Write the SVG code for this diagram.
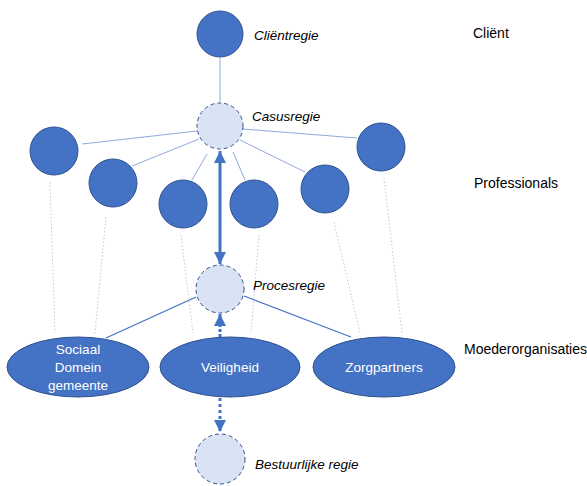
<svg xmlns="http://www.w3.org/2000/svg" width="587" height="486" viewBox="0 0 587 486">
<defs>
<style>
.node{fill:#4472C4;stroke:#2F528F;stroke-width:1}
.reg{fill:#DAE3F3;stroke:#2F528F;stroke-width:1;stroke-dasharray:4 3}
.thin{stroke:#8FAADC;stroke-width:1;fill:none}
.mid{stroke:#4472C4;stroke-width:1.3;fill:none}
.dot{stroke:#C8C8C8;stroke-width:1;stroke-dasharray:1.5 2;fill:none}
.lbl{font-family:"Liberation Sans",Arial,sans-serif;font-size:14px;fill:#000}
.it{font-family:"Liberation Sans",Arial,sans-serif;font-size:13.5px;font-style:italic;fill:#000}
.wt{font-family:"Liberation Sans",Arial,sans-serif;font-size:13.5px;fill:#fff;text-anchor:middle}
</style>
<marker id="ah" viewBox="0 0 10 10" refX="10" refY="5" markerWidth="4" markerHeight="4" orient="auto-start-reverse" markerUnits="strokeWidth">
<path d="M0,0 L10,5 L0,10 z" fill="#4472C4"/>
</marker>
</defs>
<g id="connectors">
<line class="thin" x1="220" y1="58" x2="220" y2="102"/>
<line class="thin" x1="82" y1="144" x2="197" y2="131"/>
<line class="thin" x1="132" y1="166" x2="199" y2="139"/>
<line class="thin" x1="192" y1="180" x2="207" y2="154"/>
<line class="thin" x1="245" y1="180" x2="233" y2="152"/>
<line class="thin" x1="243" y1="129" x2="357" y2="138"/>
<line class="thin" x1="240" y1="140" x2="305" y2="172"/>
<line class="dot" x1="50" y1="182" x2="55" y2="333"/>
<line class="dot" x1="106" y1="217" x2="95" y2="333"/>
<line class="dot" x1="181" y1="235" x2="193" y2="333"/>
<line class="dot" x1="259" y1="235" x2="251" y2="333"/>
<line class="dot" x1="334" y1="222" x2="360" y2="333"/>
<line class="dot" x1="384" y1="178" x2="402" y2="333"/>
<line class="mid" x1="196" y1="297" x2="106" y2="338"/>
<line class="mid" x1="244" y1="296" x2="351" y2="337"/>
<line x1="220" y1="151" x2="220" y2="264" stroke="#4472C4" stroke-width="3" marker-start="url(#ah)" marker-end="url(#ah)"/>
<line x1="220" y1="337" x2="220" y2="314" stroke="#4472C4" stroke-width="3" stroke-dasharray="3 2" marker-end="url(#ah)"/>
<line x1="220" y1="398" x2="220" y2="432" stroke="#4472C4" stroke-width="3" stroke-dasharray="3 3" marker-end="url(#ah)"/>
</g>
<g id="clientregie"><circle class="node" cx="220" cy="34" r="23"/><text class="it" x="254" y="40" font-size="15">Cliëntregie</text></g>
<g id="casusregie"><circle class="reg" cx="220" cy="126" r="23"/><text class="it" x="252" y="121">Casusregie</text></g>
<g id="prof1"><circle class="node" cx="54" cy="151" r="24"/></g>
<g id="prof2"><circle class="node" cx="113" cy="183" r="24"/></g>
<g id="prof3"><circle class="node" cx="183" cy="204" r="24"/></g>
<g id="prof4"><circle class="node" cx="254" cy="204" r="24"/></g>
<g id="prof5"><circle class="node" cx="325" cy="189" r="24"/></g>
<g id="prof6"><circle class="node" cx="381" cy="147" r="24"/></g>
<g id="procesregie"><circle class="reg" cx="220" cy="289" r="24"/><text class="it" x="253" y="290">Procesregie</text></g>
<g id="sociaal"><ellipse class="node" cx="78" cy="367" rx="71" ry="30"/><text class="wt" x="78" y="354">Sociaal</text><text class="wt" x="78" y="372">Domein</text><text class="wt" x="78" y="390">gemeente</text></g>
<g id="veiligheid"><ellipse class="node" cx="230" cy="367" rx="70" ry="30"/><text class="wt" x="230" y="372">Veiligheid</text></g>
<g id="zorgpartners"><ellipse class="node" cx="384" cy="367" rx="71" ry="30"/><text class="wt" x="384" y="372">Zorgpartners</text></g>
<g id="bestuurlijke"><circle class="reg" cx="220" cy="459" r="25"/><text class="it" x="255" y="469" font-size="15">Bestuurlijke regie</text></g>
<g id="labels">
<text class="lbl" x="473" y="38">Cliënt</text>
<text class="lbl" x="474" y="188">Professionals</text>
<text class="lbl" x="464" y="354">Moederorganisaties</text>
</g>
</svg>
